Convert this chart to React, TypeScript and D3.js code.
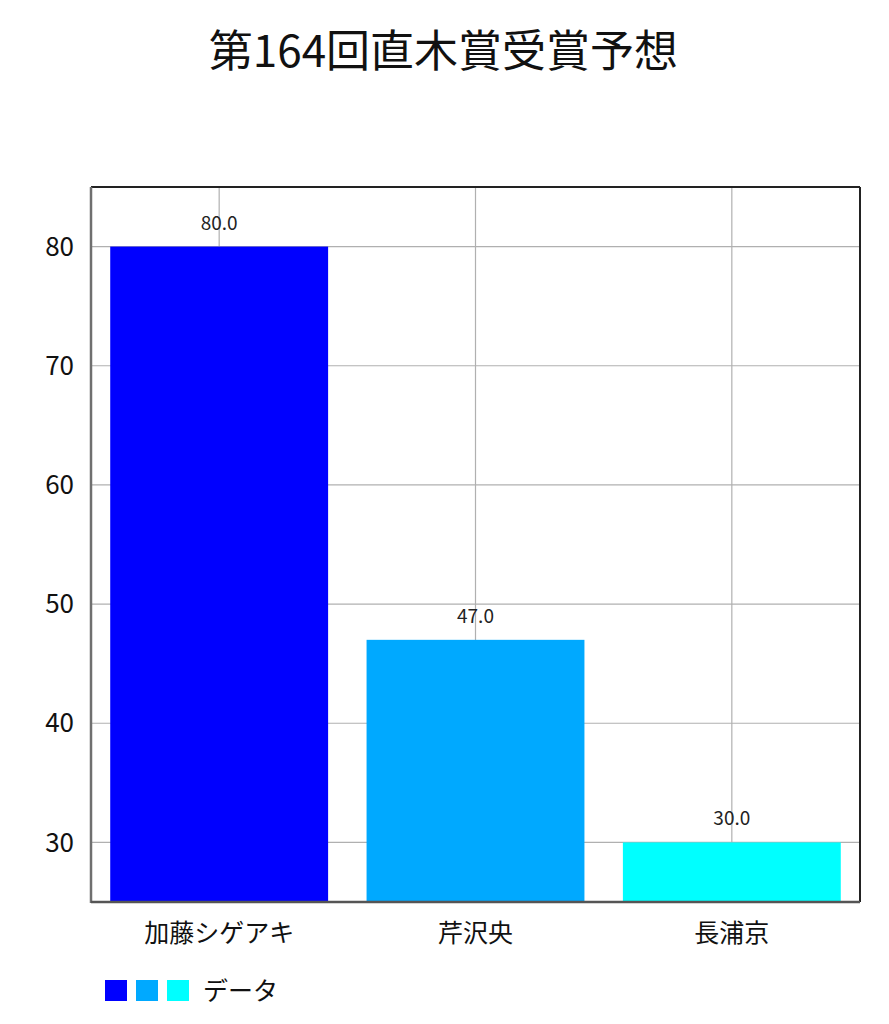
import React, { useRef, useEffect } from 'react';
import * as d3 from 'd3';

const title = '第164回直木賞受賞予想';
const categories = ['加藤シゲアキ', '芹沢央', '長浦京'];
const values = [80.0, 47.0, 30.0];
const barColors = ['#0000ff', '#00a9ff', '#00ffff'];
const yTicks = [30, 40, 50, 60, 70, 80];
const yDomain = [25, 85];
const legendLabel = 'データ';

const FONT = '"Noto Sans CJK JP", "Noto Sans", sans-serif';

export default function App() {
    const svgRef = useRef<SVGSVGElement>(null);

    useEffect(() => {
        if (!svgRef.current) return;

        const width = 889;
        const height = 1024;
        const margin = { top: 187, right: 29, bottom: 122, left: 91 };

        const svg = d3.select(svgRef.current)
            .attr('width', width)
            .attr('height', height)
            .attr('viewBox', `0 0 ${width} ${height}`)
            .style('font-family', FONT);

        svg.selectAll('*').remove();

        const x = d3.scaleBand<string>()
            .domain(categories)
            .range([margin.left, width - margin.right])
            .paddingInner(0.15)
            .paddingOuter(0.075);

        const y = d3.scaleLinear()
            .domain(yDomain)
            .range([height - margin.bottom, margin.top]);

        // background
        svg.append('rect')
            .attr('width', width).attr('height', height)
            .attr('fill', 'white');

        // title
        svg.append('text')
            .attr('x', width / 2 - 1)
            .attr('y', 67)
            .attr('text-anchor', 'middle')
            .attr('font-size', '44px')
            .attr('fill', '#111')
            .text(title);

        // grid
        const grid = svg.append('g').attr('stroke', '#b0b0b0').attr('stroke-width', 1.2);
        yTicks.forEach(t => {
            grid.append('line')
                .attr('x1', margin.left).attr('x2', width - margin.right)
                .attr('y1', y(t)).attr('y2', y(t));
        });
        categories.forEach(c => {
            const cx = (x(c) ?? 0) + x.bandwidth() / 2;
            grid.append('line')
                .attr('x1', cx).attr('x2', cx)
                .attr('y1', margin.top).attr('y2', height - margin.bottom);
        });

        // bars
        svg.append('g')
            .selectAll('rect')
            .data(values)
            .join('rect')
            .attr('x', (_, i) => x(categories[i]) ?? 0)
            .attr('y', d => y(d))
            .attr('width', x.bandwidth())
            .attr('height', d => y(yDomain[0]) - y(d))
            .attr('fill', (_, i) => barColors[i]);

        // value labels
        svg.append('g')
            .selectAll('text')
            .data(values)
            .join('text')
            .attr('x', (_, i) => (x(categories[i]) ?? 0) + x.bandwidth() / 2)
            .attr('y', d => y(d) - 17)
            .attr('text-anchor', 'middle')
            .attr('font-size', '19px')
            .attr('fill', '#222')
            .text(d => d.toFixed(1));

        // frame
        svg.append('line')
            .attr('x1', margin.left).attr('x2', width - margin.right)
            .attr('y1', margin.top).attr('y2', margin.top)
            .attr('stroke', '#222').attr('stroke-width', 2);
        svg.append('line')
            .attr('x1', width - margin.right).attr('x2', width - margin.right)
            .attr('y1', margin.top).attr('y2', height - margin.bottom)
            .attr('stroke', '#222').attr('stroke-width', 2);
        svg.append('line')
            .attr('x1', margin.left).attr('x2', margin.left)
            .attr('y1', margin.top).attr('y2', height - margin.bottom + 1)
            .attr('stroke', '#6f6f6f').attr('stroke-width', 2.5);
        svg.append('line')
            .attr('x1', margin.left).attr('x2', width - margin.right)
            .attr('y1', height - margin.bottom).attr('y2', height - margin.bottom)
            .attr('stroke', '#555').attr('stroke-width', 2.5);

        // y tick labels
        svg.append('g')
            .selectAll('text')
            .data(yTicks)
            .join('text')
            .attr('x', margin.left - 17)
            .attr('y', d => y(d))
            .attr('dy', '0.35em')
            .attr('text-anchor', 'end')
            .attr('font-size', '26px')
            .attr('fill', '#111')
            .text(d => d);

        // category labels
        svg.append('g')
            .selectAll('text')
            .data(categories)
            .join('text')
            .attr('x', d => (x(d) ?? 0) + x.bandwidth() / 2)
            .attr('y', height - margin.bottom + 40)
            .attr('text-anchor', 'middle')
            .attr('font-size', '25px')
            .attr('fill', '#111')
            .text(d => d);

        // legend
        const legend = svg.append('g').attr('transform', 'translate(105,980)');
        barColors.forEach((c, i) => {
            legend.append('rect')
                .attr('x', i * 31)
                .attr('y', 0)
                .attr('width', 22)
                .attr('height', 21)
                .attr('fill', c);
        });
        legend.append('text')
            .attr('x', 98)
            .attr('y', 11)
            .attr('dy', '0.35em')
            .attr('font-size', '25px')
            .attr('fill', '#111')
            .text(legendLabel);
    }, []);

    return (
        <svg ref={svgRef} style={{ position: 'absolute', left: 0, top: 0, display: 'block' }} />
    );
}
